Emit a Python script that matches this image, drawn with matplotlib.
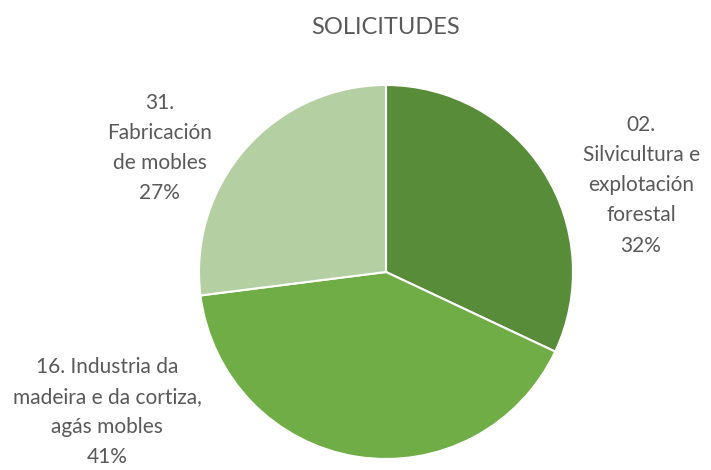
import matplotlib
matplotlib.use('agg')
import matplotlib.pyplot as plt

plt.rcParams['font.family'] = ['Lato', 'DejaVu Sans']

# sectors, clockwise from 12 o'clock
sectors = ["02.\nSilvicultura e\nexplotación\nforestal",
           "16. Industria da\nmadeira e da cortiza,\nagás mobles",
           "31.\nFabricación\nde mobles"]
shares = [32, 41, 27]
colours = ['#588C38', '#70AD47', '#B4CFA2']
label_xy = [(1.364, 0.465), (-1.492, -0.749), (-1.209, 0.663)]

W, H = 711, 470
cx, cy, r = 386, 272, 187

fig = plt.figure(figsize=(W / 100, H / 100), dpi=100)
ax = fig.add_axes([(cx - r) / W, (H - cy - r) / H, 2 * r / W, 2 * r / H])
ax.pie(shares, colors=colours, startangle=90, counterclock=False, radius=1,
       wedgeprops=dict(edgecolor='white', linewidth=1.5))
ax.set_xlim(-1, 1)
ax.set_ylim(-1, 1)
ax.set_aspect('auto')
ax.axis('off')

for name, v, (x, y) in zip(sectors, shares, label_xy):
    ax.text(x, y, f"{name}\n{v}%", ha='center', va='center', fontsize=15,
            color='#595959', linespacing=1.64, clip_on=False)

fig.text(cx / W, 1 - 28 / H, "SOLICITUDES", ha='center', va='center',
         fontsize=17, color='#595959')

fig.savefig('out.png', dpi=100)
